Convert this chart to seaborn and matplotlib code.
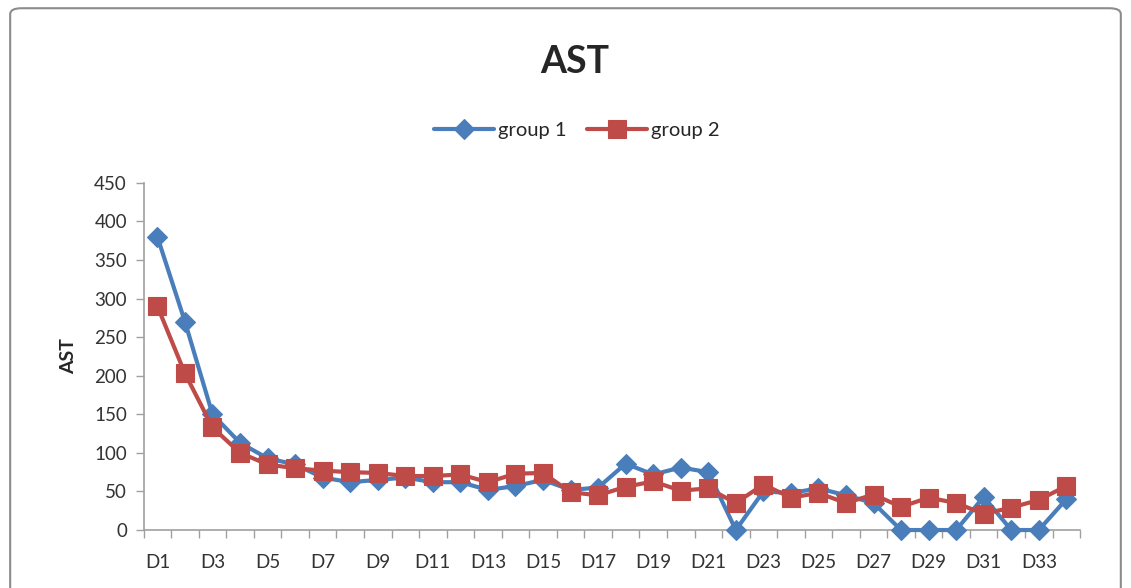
import matplotlib
matplotlib.use("Agg")
import matplotlib.pyplot as plt
from matplotlib.patches import FancyBboxPatch
from matplotlib.ticker import FixedLocator
import seaborn as sns
import pandas as pd

days = [f"D{i}" for i in range(1, 35)]
group1 = [380, 270, 150, 113, 93, 85, 68, 62, 65, 68, 62, 62, 52, 57, 65, 52, 55,
          86, 72, 81, 75, 0, 50, 48, 54, 45, 35, 0, 0, 0, 43, 0, 0, 40]
group2 = [290, 203, 133, 100, 85, 80, 77, 75, 74, 70, 70, 72, 62, 73, 74, 49, 45,
          56, 63, 51, 54, 35, 59, 42, 48, 35, 46, 30, 42, 35, 21, 29, 39, 57]
series_names = ["group 1", "group 2"]
colors = ["#4A7EBB", "#BE4B48"]
yticks = list(range(0, 451, 50))

df = pd.DataFrame({
    "day": days * 2,
    "AST": group1 + group2,
    "group": [series_names[0]] * len(days) + [series_names[1]] * len(days),
})

sns.set_style("white")
plt.rcParams["font.family"] = ["Lato", "DejaVu Sans"]

fig = plt.figure(figsize=(11.31, 5.88), dpi=100)
ax = fig.add_axes([0.127, 0.0986, 0.828, 0.5904])

sns.lineplot(data=df, x="day", y="AST", hue="group", style="group",
             markers={"group 1": "D", "group 2": "s"}, dashes=False,
             palette=dict(zip(series_names, colors)), linewidth=3,
             markersize=10, markeredgewidth=0.8, ax=ax, sort=False)
for line, c in zip(ax.lines, colors):
    line.set_markeredgecolor(c)
    line.set_clip_on(False)
ax.lines[1].set_markersize(13)

n = len(days)
ax.set_xlim(-0.5, n - 0.5)
ax.set_ylim(0, 450)
ax.set_yticks(yticks)
ax.set_yticklabels([str(v) for v in yticks], fontsize=13.5, color="#333333")
ax.set_xticks(range(0, n, 2))
ax.set_xticklabels(days[::2], fontsize=13.5, color="#333333")
ax.xaxis.set_minor_locator(FixedLocator([i - 0.5 for i in range(n + 1)]))
ax.tick_params(axis="x", which="major", length=0, pad=17)
ax.tick_params(axis="x", which="minor", length=6, width=1, color="#A0A0A0", direction="out", bottom=True)
ax.tick_params(axis="y", length=6, width=1, color="#A0A0A0", direction="out", left=True, pad=6)

for s in ["top", "right"]:
    ax.spines[s].set_visible(False)
for s in ["left", "bottom"]:
    ax.spines[s].set_color("#A0A0A0")
    ax.spines[s].set_linewidth(1.2)
    ax.spines[s].set_zorder(0.5)

ax.set_xlabel("")
ax.set_ylabel("AST", fontsize=14, fontweight="bold", labelpad=12)

ax.legend(handles=ax.lines[:2], labels=series_names, loc="center", bbox_to_anchor=(0.51, 0.778),
          bbox_transform=fig.transFigure, ncol=2, frameon=False, fontsize=14.5,
          handlelength=3, columnspacing=1.0, handletextpad=0.2)

fig.text(0.508, 0.895, "AST", ha="center", va="center", fontsize=27, fontweight="bold")

border = FancyBboxPatch((0.009, -0.2), 0.982, 1.186, transform=fig.transFigure,
                        boxstyle="round,pad=0,rounding_size=0.01", fill=False,
                        edgecolor="#8C8C8C", linewidth=1.5, clip_on=False)
fig.patches.append(border)

fig.savefig("out.png", dpi=100)
